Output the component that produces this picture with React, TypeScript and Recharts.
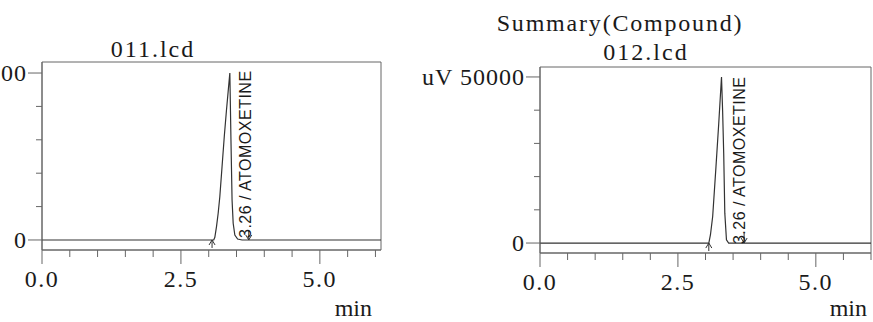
import { LineChart, Line, XAxis, YAxis, ReferenceArea, ReferenceDot, Label } from 'recharts';

// retention time (min) and detector signal (uV)
const times011 = [0, 1.0, 2.0, 3.0, 3.09, 3.11, 3.14, 3.17, 3.2, 3.24, 3.28, 3.32, 3.35, 3.38, 3.4, 3.42, 3.44, 3.47, 3.52, 3.6, 4.5, 6.1];
const signal011 = [0, 0, 0, 0, 0, 800, 4000, 8000, 13000, 22000, 31000, 39000, 44500, 50000, 30000, 12000, 5000, 1500, 300, 0, 0, 0];
const times012 = [0, 1.0, 2.0, 3.0, 3.06, 3.09, 3.13, 3.19, 3.24, 3.29, 3.31, 3.33, 3.35, 3.38, 3.42, 4.5, 6.0];
const signal012 = [0, 0, 0, 0, 0, 2500, 8000, 23000, 36000, 50000, 40000, 27000, 9000, 1000, 0, 0, 0];

const xTicks = [0, 0.5, 1.0, 1.5, 2.0, 2.5, 3.0, 3.5, 4.0, 4.5, 5.0, 5.5, 6.0];
const xMajor = [0, 2.5, 5.0];
const yTicks = [0, 10000, 20000, 30000, 40000, 50000];
const yLabels = ['0', '', '', '', '', 'uV 50000'];

const peakName = '3.26 / ATOMOXETINE';
const summaryTitle = 'Summary(Compound)';
const fileNames = ['011.lcd', '012.lcd'];

const serif = '"Liberation Serif", "Times New Roman", serif';
const sans = '"Liberation Sans", Arial, sans-serif';
const ink = '#1a1a1a';
const frame = '#666';

const XTick = (props: any) => {
  const { x, y, payload } = props;
  const major = xMajor.includes(payload.value);
  return (
    <g>
      <line x1={x} x2={x} y1={y} y2={y + (major ? 14 : 7)} stroke={frame} />
      {major && (
        <text x={x} y={y + 37} textAnchor="middle" fontFamily={serif} fontSize={24} letterSpacing={1.5} fill={ink}>
          {payload.value.toFixed(1)}
        </text>
      )}
    </g>
  );
};

const YTick = (props: any) => {
  const { x, y, payload } = props;
  const label = yLabels[yTicks.indexOf(payload.value)];
  return (
    <g>
      <line x1={x - (label ? 14 : 6)} x2={x} y1={y} y2={y} stroke={frame} />
      {label && (
        <text x={x - 15} y={y} dy={8} textAnchor="end" fontFamily={serif} fontSize={24} letterSpacing={1} fill={ink}>
          {label}
        </text>
      )}
    </g>
  );
};

interface ChromProps {
  times: number[];
  signal: number[];
  svgLeft: number;
  width: number;
  yAxisWidth: number;
  marginTop: number;
  marginRight: number;
  xAxisHeight: number;
  xMax: number;
  yMin: number;
  yMax: number;
  textT: number;
  textV: number;
  startT: number;
  endT: number;
  minOffset: number;
}

const Chromatogram = (p: ChromProps) => {
  const data = p.times.map((t, i) => ({ t, v: p.signal[i] }));
  return (
    <div style={{ position: 'absolute', left: p.svgLeft, top: 0 }}>
      <LineChart width={p.width} height={322} data={data} margin={{ top: p.marginTop, right: p.marginRight, bottom: 0, left: 0 }}>
        <XAxis
          dataKey="t"
          type="number"
          domain={[0, p.xMax]}
          ticks={xTicks}
          interval={0}
          height={p.xAxisHeight}
          tickSize={0}
          tickMargin={0}
          tickLine={false}
          tick={<XTick />}
          axisLine={{ stroke: frame }}
          allowDataOverflow
        >
          <Label
            content={(lp: any) => {
              const vb = lp.viewBox;
              return (
                <text x={vb.x + vb.width - p.minOffset} y={322 - 6} textAnchor="end" fontFamily={serif} fontSize={24} fill={ink}>
                  min
                </text>
              );
            }}
          />
        </XAxis>
        <YAxis
          type="number"
          domain={[p.yMin, p.yMax]}
          ticks={yTicks}
          interval={0}
          width={p.yAxisWidth}
          tickSize={0}
          tickMargin={0}
          tickLine={false}
          tick={<YTick />}
          axisLine={{ stroke: frame }}
          allowDataOverflow
        />
        <ReferenceArea x1={0} x2={p.xMax} y1={p.yMin} y2={p.yMax} fill="none" stroke={frame} strokeWidth={1} />
        <Line type="linear" dataKey="v" stroke="#333" strokeWidth={1.2} dot={false} isAnimationActive={false} />
        <ReferenceDot
          x={p.startT}
          y={0}
          r={0}
          shape={(sp: any) => (
            <path d={`M${sp.cx - 3},${sp.cy + 5} L${sp.cx},${sp.cy} L${sp.cx + 3},${sp.cy + 5} M${sp.cx},${sp.cy} L${sp.cx},${sp.cy + 8}`} stroke="#333" fill="none" />
          )}
        />
        <ReferenceDot
          x={p.endT}
          y={0}
          r={0}
          shape={(sp: any) => (
            <path d={`M${sp.cx},${sp.cy - 10} L${sp.cx},${sp.cy} M${sp.cx - 3},${sp.cy - 5} L${sp.cx},${sp.cy} L${sp.cx + 3},${sp.cy - 5}`} stroke="#333" fill="none" />
          )}
        />
        <ReferenceDot
          x={p.textT}
          y={p.textV}
          r={0}
          shape={(sp: any) => (
            <text
              x={sp.cx}
              y={sp.cy}
              transform={`rotate(-90 ${sp.cx} ${sp.cy})`}
              fontFamily={sans}
              fontSize={16}
              letterSpacing={0.5}
              fill={ink}
            >
              {peakName}
            </text>
          )}
        />
      </LineChart>
    </div>
  );
};

export default function App() {
  return (
    <div style={{ position: 'absolute', left: 0, top: 0, width: 873, height: 322, overflow: 'hidden', background: '#fff' }}>
      <Chromatogram
        times={times011}
        signal={signal011}
        svgLeft={-80}
        width={470}
        yAxisWidth={122}
        marginTop={62}
        marginRight={9}
        xAxisHeight={72}
        xMax={6.1}
        yMin={-3000}
        yMax={53300}
        textT={3.76}
        textV={600}
        startT={3.06}
        endT={3.72}
        minOffset={9}
      />
      <Chromatogram
        times={times012}
        signal={signal012}
        svgLeft={400}
        width={473}
        yAxisWidth={140}
        marginTop={67}
        marginRight={2}
        xAxisHeight={69}
        xMax={6.0}
        yMin={-3000}
        yMax={53000}
        textT={3.71}
        textV={-300}
        startT={3.06}
        endT={3.7}
        minOffset={4}
      />
      <svg width={873} height={322} style={{ position: 'absolute', left: 0, top: 0, pointerEvents: 'none' }}>
        <text x={153} y={57} textAnchor="middle" fontFamily={serif} fontSize={24} letterSpacing={2} fill={ink}>
          {fileNames[0]}
        </text>
        <text x={620} y={31} textAnchor="middle" fontFamily={serif} fontSize={24} letterSpacing={1.8} fill={ink}>
          {summaryTitle}
        </text>
        <text x={646} y={60} textAnchor="middle" fontFamily={serif} fontSize={24} letterSpacing={2} fill={ink}>
          {fileNames[1]}
        </text>
      </svg>
    </div>
  );
}
